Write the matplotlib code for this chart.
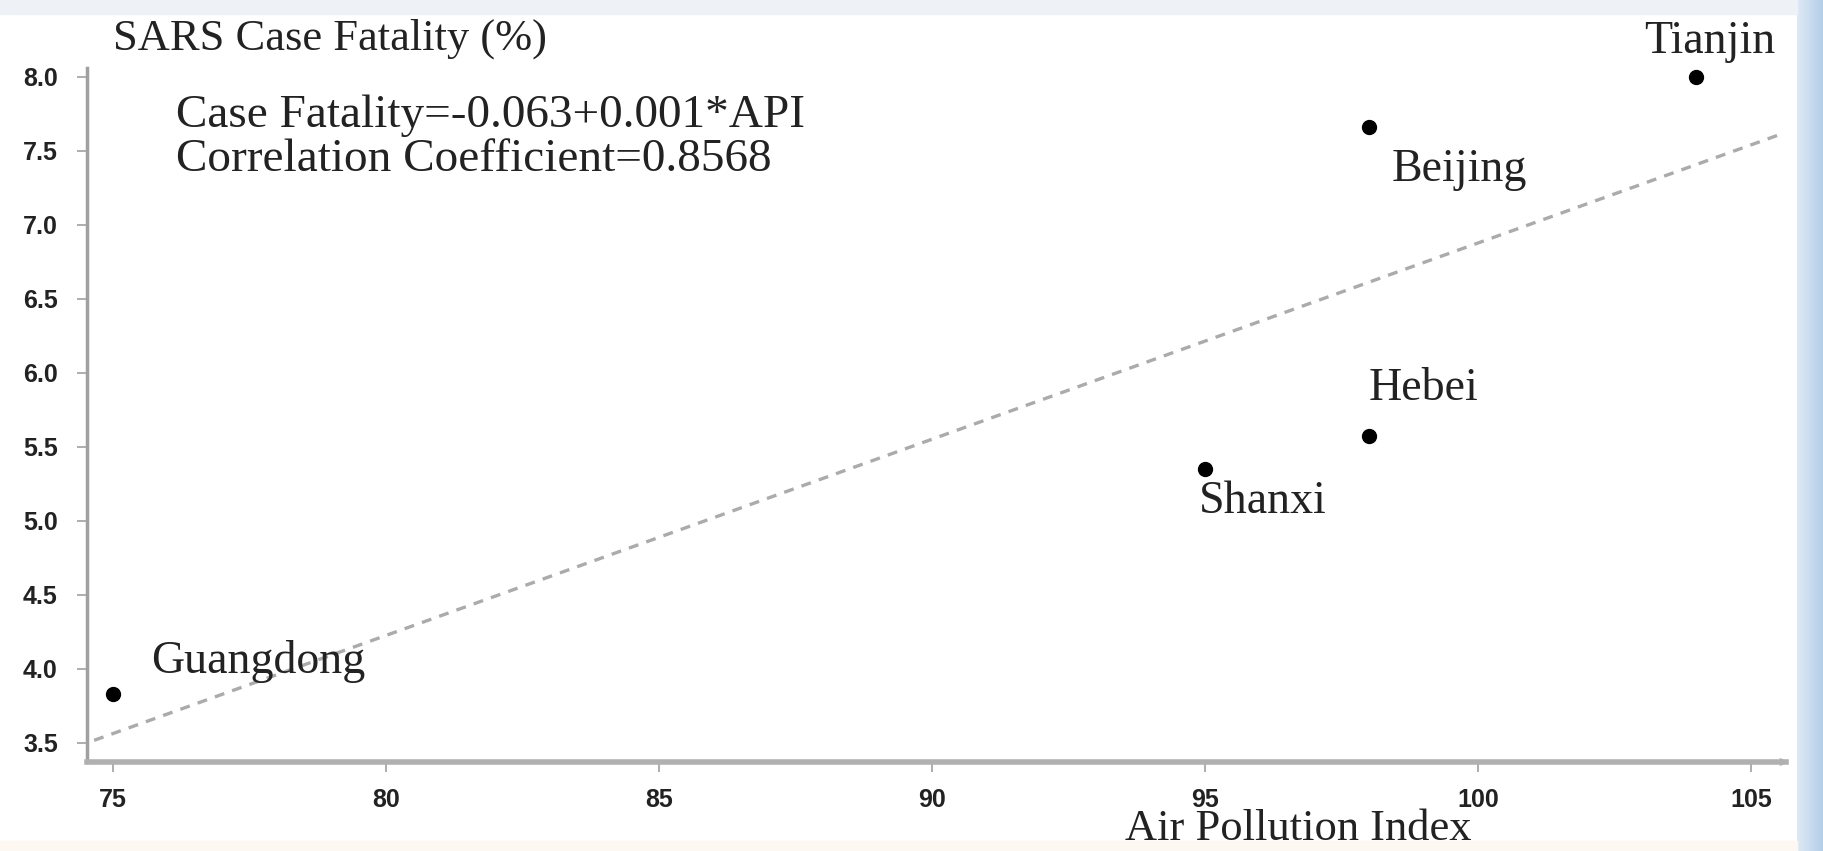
import numpy as np
import matplotlib
matplotlib.use('Agg')
import matplotlib.pyplot as plt
from matplotlib.patches import Rectangle
from matplotlib.transforms import blended_transform_factory

# data
provinces = ['Guangdong', 'Shanxi', 'Hebei', 'Beijing', 'Tianjin']
api = [75, 95, 98, 98, 104]
fatality = [3.83, 5.35, 5.57, 7.66, 8.0]

# label anchors (data coords, centre of text)
label_x = [77.65, 96.05, 99.0, 99.65, 104.25]
label_y = [4.05, 5.13, 5.89, 7.37, 8.24]

xticks = [75, 80, 85, 90, 95, 100, 105]
yticks = [3.5, 4.0, 4.5, 5.0, 5.5, 6.0, 6.5, 7.0, 7.5, 8.0]

eq_lines = ['Case Fatality=-0.063+0.001*API', 'Correlation Coefficient=0.8568']

serif = ['Liberation Serif', 'DejaVu Serif']
sans = ['Liberation Sans', 'DejaVu Sans']

fig = plt.figure(figsize=(18.24, 8.51), dpi=100)
fig.patch.set_facecolor('white')

# frame decorations of the slide
grad = np.linspace(0, 1, 64).reshape(1, -1)
bg = fig.add_axes([1797 / 1824, 0, 27 / 1824, 1])
bg.imshow(grad, aspect='auto', cmap=matplotlib.colors.LinearSegmentedColormap.from_list(
    'b', ['#dfe9f4', '#b3cde8']), extent=[0, 1, 0, 1])
bg.axis('off')
fig.patches.append(Rectangle((0, 1 - 14 / 851), 1797 / 1824, 14 / 851, transform=fig.transFigure,
                             color='#eef2f6', zorder=0))
fig.patches.append(Rectangle((0, 0), 1797 / 1824, 10 / 851, transform=fig.transFigure,
                             color='#fdf9f2', zorder=0))

ax = fig.add_axes([87 / 1824, 1 - 762 / 851, (1786 - 87) / 1824, (762 - 68) / 851])
ax.set_facecolor('none')

# least squares fit line
k, b = np.polyfit(api, fatality, 1)
xf = np.array([74.65, 105.6])
ax.plot(xf, k * xf + b, color='#ababab', lw=2.4, dashes=(3, 2.5))

ax.plot(api, fatality, 'o', color='black', ms=10)

for name, lx, ly in zip(provinces, label_x, label_y):
    ax.text(lx, ly, name, ha='center', va='center', fontsize=33, family=serif, color='#222222')

ax.text(76.15, 7.74, eq_lines[0], ha='left', va='center', fontsize=34, family=serif, color='#222222')
ax.text(76.15, 7.44, eq_lines[1], ha='left', va='center', fontsize=34, family=serif, color='#222222')

ax.text(75.0, 8.26, 'SARS Case Fatality (%)', ha='left', va='center', fontsize=32,
        family=serif, color='#222222', clip_on=False)
xl_tr = blended_transform_factory(ax.transData, fig.transFigure)
ax.text(96.7, 2 / 851, 'Air Pollution Index', ha='center', va='bottom', fontsize=32,
        family=serif, color='#222222', clip_on=False, transform=xl_tr)

ax.set_xlim(74.52, 105.64)
ax.set_ylim(3.37, 8.06)
ax.set_xticks(xticks)
ax.set_xticklabels([str(v) for v in xticks])
ax.set_yticks(yticks)
ax.set_yticklabels(['%.1f' % v for v in yticks])

for side in ['top', 'right']:
    ax.spines[side].set_visible(False)
ax.spines['left'].set_color('#a0a0a0')
ax.spines['left'].set_linewidth(2.5)
ax.spines['bottom'].set_color('#b0b0b0')
ax.spines['bottom'].set_linewidth(4)
ax.annotate('', xy=(1.003, 0), xytext=(0.985, 0), xycoords='axes fraction',
            arrowprops=dict(arrowstyle='->', color='#b0b0b0', lw=1.5))

ax.tick_params(axis='both', colors='#a0a0a0', length=7, width=1.2, labelcolor='#222222')
ax.tick_params(axis='x', pad=12)
ax.tick_params(axis='y', pad=14)
for t in ax.get_xticklabels() + ax.get_yticklabels():
    t.set_family(sans)
    t.set_fontsize(18)
    t.set_fontweight('bold')

fig.savefig('out.png', dpi=100)
